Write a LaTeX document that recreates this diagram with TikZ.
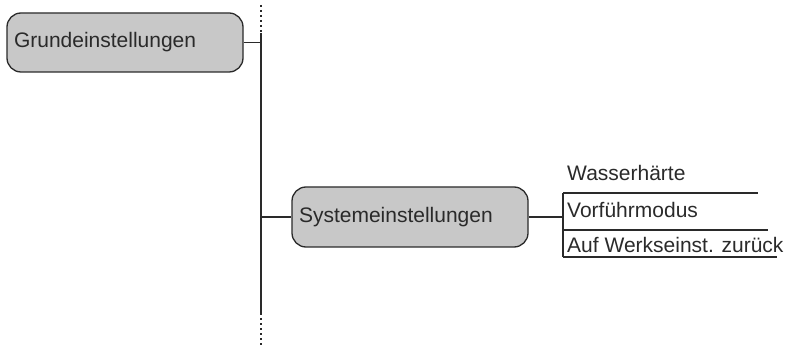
\documentclass[tikz,border=0pt]{standalone}
\usepackage{fontspec}
\setmainfont{Liberation Sans}
\definecolor{boxfill}{HTML}{C8C8C8}
\definecolor{ink}{HTML}{2A2A2A}
\begin{document}
\begin{tikzpicture}[x=1pt,y=-1pt,
  menubox/.style={draw=ink, line width=1.3pt, fill=boxfill, rounded corners=14pt,
    minimum width=236pt, minimum height=59pt, inner xsep=7pt, inner ysep=0pt,
    text width=222pt, align=left, font=\fontsize{21}{24}\selectfont, text=ink},
  item/.style={anchor=base west, inner sep=0pt, font=\fontsize{21}{24}\selectfont, text=ink},
  conn/.style={draw=ink, line width=1.3pt},
  dots/.style={draw=ink, line width=1.3pt, dash pattern=on 2pt off 3pt}]
\useasboundingbox (0,0) rectangle (787,347);
% main boxes
\node[menubox] (g) at (125,42.5) {Grundeinstellungen};
\node[menubox, minimum height=60pt] (s) at (410,217) {Systemeinstellungen};
% trunk
\coordinate (t0) at (261,5);
\coordinate (t1) at (261,33);
\coordinate (tg) at (261,42.5);
\coordinate (ts) at (261,217);
\coordinate (t2) at (261,313);
\coordinate (t3) at (261,345);
\draw[dots] (t0) -- (t1);
\draw[conn] (t1) -- (t2);
\draw[dots] (t2) -- (t3);
\draw[conn] (g.east) -- (tg);
\draw[conn] (ts) -- (s.west);
% submenu
\node[item] (w) at (567,181) {Wasserhärte};
\node[item] (v) at (567,218) {Vorführmodus};
\node[item] (a) at (567,253) {Auf Werkseinst. zurück};
\coordinate (b0) at (563,193);
\coordinate (b1) at (563,230);
\coordinate (b2) at (563,257);
\coordinate (bs) at (563,217);
\draw[conn] (s.east) -- (bs);
\draw[conn] (b0) -- (b2);
\draw[conn] (b0) -- (758,193);
\draw[conn] (b1) -- (768,230);
\draw[conn] (b2) -- (777,257);
\end{tikzpicture}
\end{document}
